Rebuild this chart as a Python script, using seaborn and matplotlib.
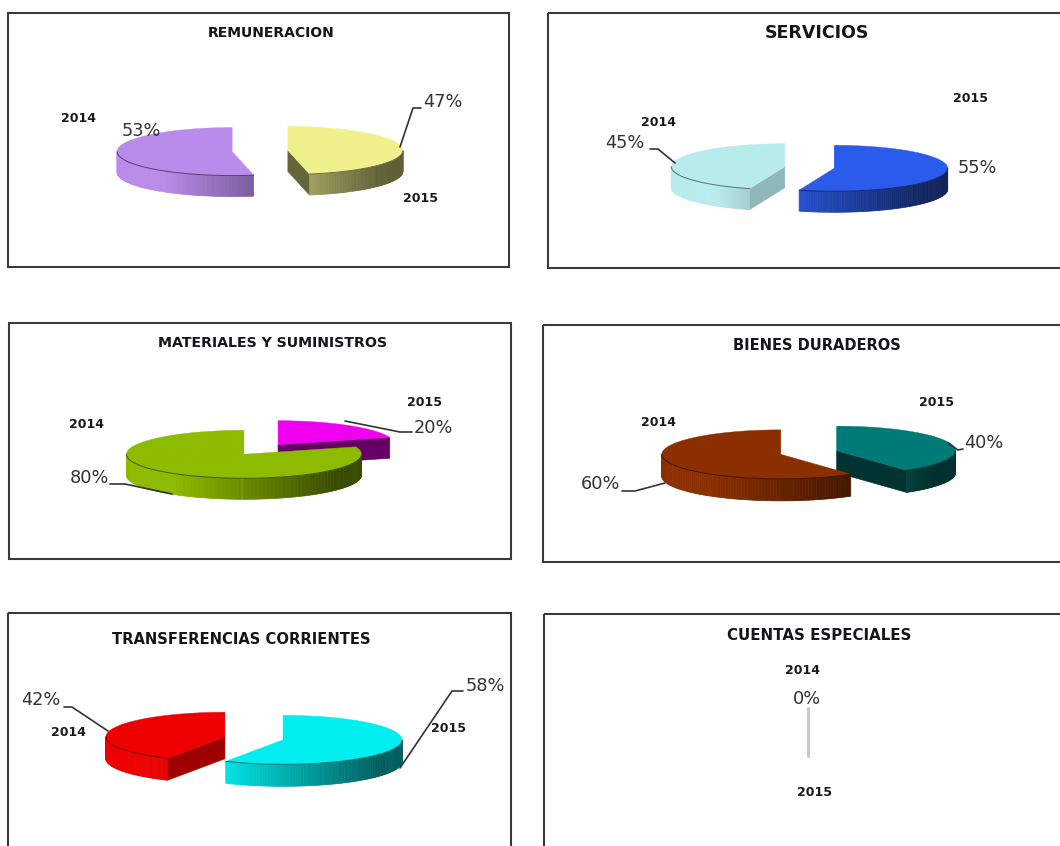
import numpy as np
import matplotlib
matplotlib.use("Agg")
import matplotlib.pyplot as plt
from matplotlib.patches import Rectangle
import seaborn as sns

# Share of each budget item per year, in percent
titles = ["REMUNERACION", "SERVICIOS", "MATERIALES Y SUMINISTROS",
          "BIENES DURADEROS", "TRANSFERENCIAS CORRIENTES", "CUENTAS ESPECIALES"]
values_2014 = [53, 45, 80, 60, 42, 0]
values_2015 = [47, 55, 20, 40, 58, 0]
year_labels = ["2014", "2015"]

# Slice colours and the shade factor of their flat cut faces
colors_2014 = ["#B98BEA", "#B8ECEC", "#8DBB00", "#8B2F00", "#EE0000", "#C8C8C8"]
colors_2015 = ["#F0F08C", "#2B5BEB", "#F000F0", "#007A76", "#00EEF0", "#C8C8C8"]
face_2014 = [0.66, 0.78, 0.42, 0.42, 0.67, 1.0]
face_2015 = [0.42, 0.42, 0.42, 0.42, 0.42, 1.0]

# Layout, in figure pixels
frames = [(8, 13, 501, 254), (548, 13, 530, 255), (9, 323, 502, 236),
          (543, 325, 530, 237), (8, 613, 503, 260), (544, 614, 530, 260)]
title_pos = [(271, 33), (817, 33), (273, 343), (817, 345), (241, 639), (819, 635)]
title_size = [10, 12.5, 10.2, 10.5, 10.6, 10.8]
centers = [(260, 151), (809.5, 167.5), (261, 449.5), (808.7, 452.5), (254, 738.3)]
radius_x = [115, 113.5, 117.5, 119, 119]
radius_y = [24, 23, 24, 24.5, 24.5]
depth = [21, 21, 21, 22, 22]
explode = [28, 25, 29, 29.3, 30]
year_pos_2014 = [(78, 119), (659, 123), (86, 425), (659, 423), (68, 733), (803, 671)]
year_pos_2015 = [(421, 199), (971, 99), (425, 403), (937, 403), (449, 729), (815, 793)]
pct_pos_2014 = [(141, 131), (625, 143), (89, 478), (600, 484), (41, 700), (807, 699)]
pct_pos_2015 = [(443, 102), (977, 168), (433, 428), (984, 443), (485, 686), None]
leaders = [
    [(400, 147), (413, 108), (421, 108)],
    [(650, 149), (658, 149), (675, 163)],
    [(110, 484), (125, 484), (172, 494)],
    [(345, 421), (400, 432), (412, 432)],
    [(622, 491), (635, 491), (665, 483)],
    [(948, 443), (958, 450), (963, 449)],
    [(64, 707), (72, 707), (108, 731)],
    [(400, 768), (452, 691), (463, 691)],
]
empty_slice = (808, 708, 756)

sns.set_theme(style="white")
plt.rcParams["font.family"] = ["DejaVu Sans"]

fig = plt.figure(figsize=(10.6, 8.46), dpi=100, facecolor="white")
ax = fig.add_axes([0, 0, 1, 1])
ax.set_xlim(0, 1060)
ax.set_ylim(846, 0)
ax.axis("off")


def rim(cx, cy, rx, ry, deg):
    """Screen position of a rim point; angles run clockwise from 12 o'clock."""
    t = np.radians(deg)
    return cx + rx * np.sin(t), cy - ry * np.cos(t)


def wall_shade(t):
    """Darkening of the curved wall from the slice's left side to its right."""
    return np.interp(t, [0.0, 0.2, 0.9, 1.0], [1.0, 1.0, 0.4, 0.4])


def draw_slice(cx, cy, rx, ry, d, start, end, color, face, z):
    base = np.array(sns.color_palette([color])[0])

    # Flat cut faces that turn towards the viewer
    for angle, outward in ((start, start - 90), (end, end + 90)):
        if -np.cos(np.radians(outward)) > 0.01:
            x, y = rim(cx, cy, rx, ry, angle)
            ax.fill([cx, x, x, cx], [cy, y, y + d, cy + d],
                    color=tuple(base * face), lw=0.4, zorder=z)

    # Curved front wall, shaded in thin strips
    lo, hi = max(start, 90), min(end, 270)
    if hi > lo:
        steps = np.linspace(lo, hi, 90)
        for a0, a1 in zip(steps[:-1], steps[1:]):
            x0, y0 = rim(cx, cy, rx, ry, a0)
            x1, y1 = rim(cx, cy, rx, ry, a1)
            shade = wall_shade(((x0 + x1) / 2 - (cx - rx)) / (2 * rx))
            ax.fill([x0, x1, x1, x0], [y0, y1, y1 + d, y0 + d],
                    color=tuple(base * shade), lw=0.5, zorder=z)
        edge = np.linspace(lo, hi, 90)
        ex, ey = rim(cx, cy, rx, ry, edge)
        ax.plot(ex, ey, color=tuple(base * 0.35), lw=0.7, alpha=0.8, zorder=z + 0.2)

    # Top surface
    arc = np.linspace(start, end, 200)
    ax_, ay_ = rim(cx, cy, rx, ry, arc)
    ax.fill(np.r_[cx, ax_], np.r_[cy, ay_], color=color, lw=0.3, zorder=z + 0.1)


for i, (title, (tx, ty)) in enumerate(zip(titles, title_pos)):
    x, y, w, h = frames[i]
    ax.add_patch(Rectangle((x, y), w, h, fill=False, ec="#3a3a3a", lw=1.5, zorder=1))
    ax.text(tx, ty, title, ha="center", va="center", fontsize=title_size[i],
            fontweight="bold", color="#14141e", zorder=6)

    v14, v15 = values_2014[i], values_2015[i]
    total = v14 + v15
    if total > 0:
        cx, cy = centers[i]
        rx, ry, d, e = radius_x[i], radius_y[i], depth[i], explode[i]
        cut = 360 * v15 / total

        # 2015 runs clockwise from 12 o'clock, 2014 closes the circle
        dx, dy = rim(0, 0, e, e * ry / rx, cut / 2)
        draw_slice(cx + dx, cy + dy, rx, ry, d, 0, cut, colors_2015[i], face_2015[i], 2)
        dx, dy = rim(0, 0, e, e * ry / rx, (cut + 360) / 2)
        draw_slice(cx + dx, cy + dy, rx, ry, d, cut, 360, colors_2014[i], face_2014[i], 3)
    else:
        lx, y0, y1 = empty_slice
        ax.plot([lx, lx], [y0, y1], color=colors_2014[i], lw=2.2, zorder=2)

    for label, pos in zip(year_labels, (year_pos_2014[i], year_pos_2015[i])):
        ax.text(*pos, label, ha="center", va="center", fontsize=9,
                fontweight="bold", color="#1a1a1a", zorder=6)
    for val, pos in ((v14, pct_pos_2014[i]), (v15, pct_pos_2015[i])):
        if pos is not None:
            ax.text(*pos, f"{val}%", ha="center", va="center", fontsize=12.8,
                    color="#333333", zorder=6)

for path in leaders:
    xs, ys = zip(*path)
    ax.plot(xs, ys, color="#333333", lw=1.2, zorder=5, solid_capstyle="round")

fig.savefig("out.png", dpi=100, facecolor="white")
